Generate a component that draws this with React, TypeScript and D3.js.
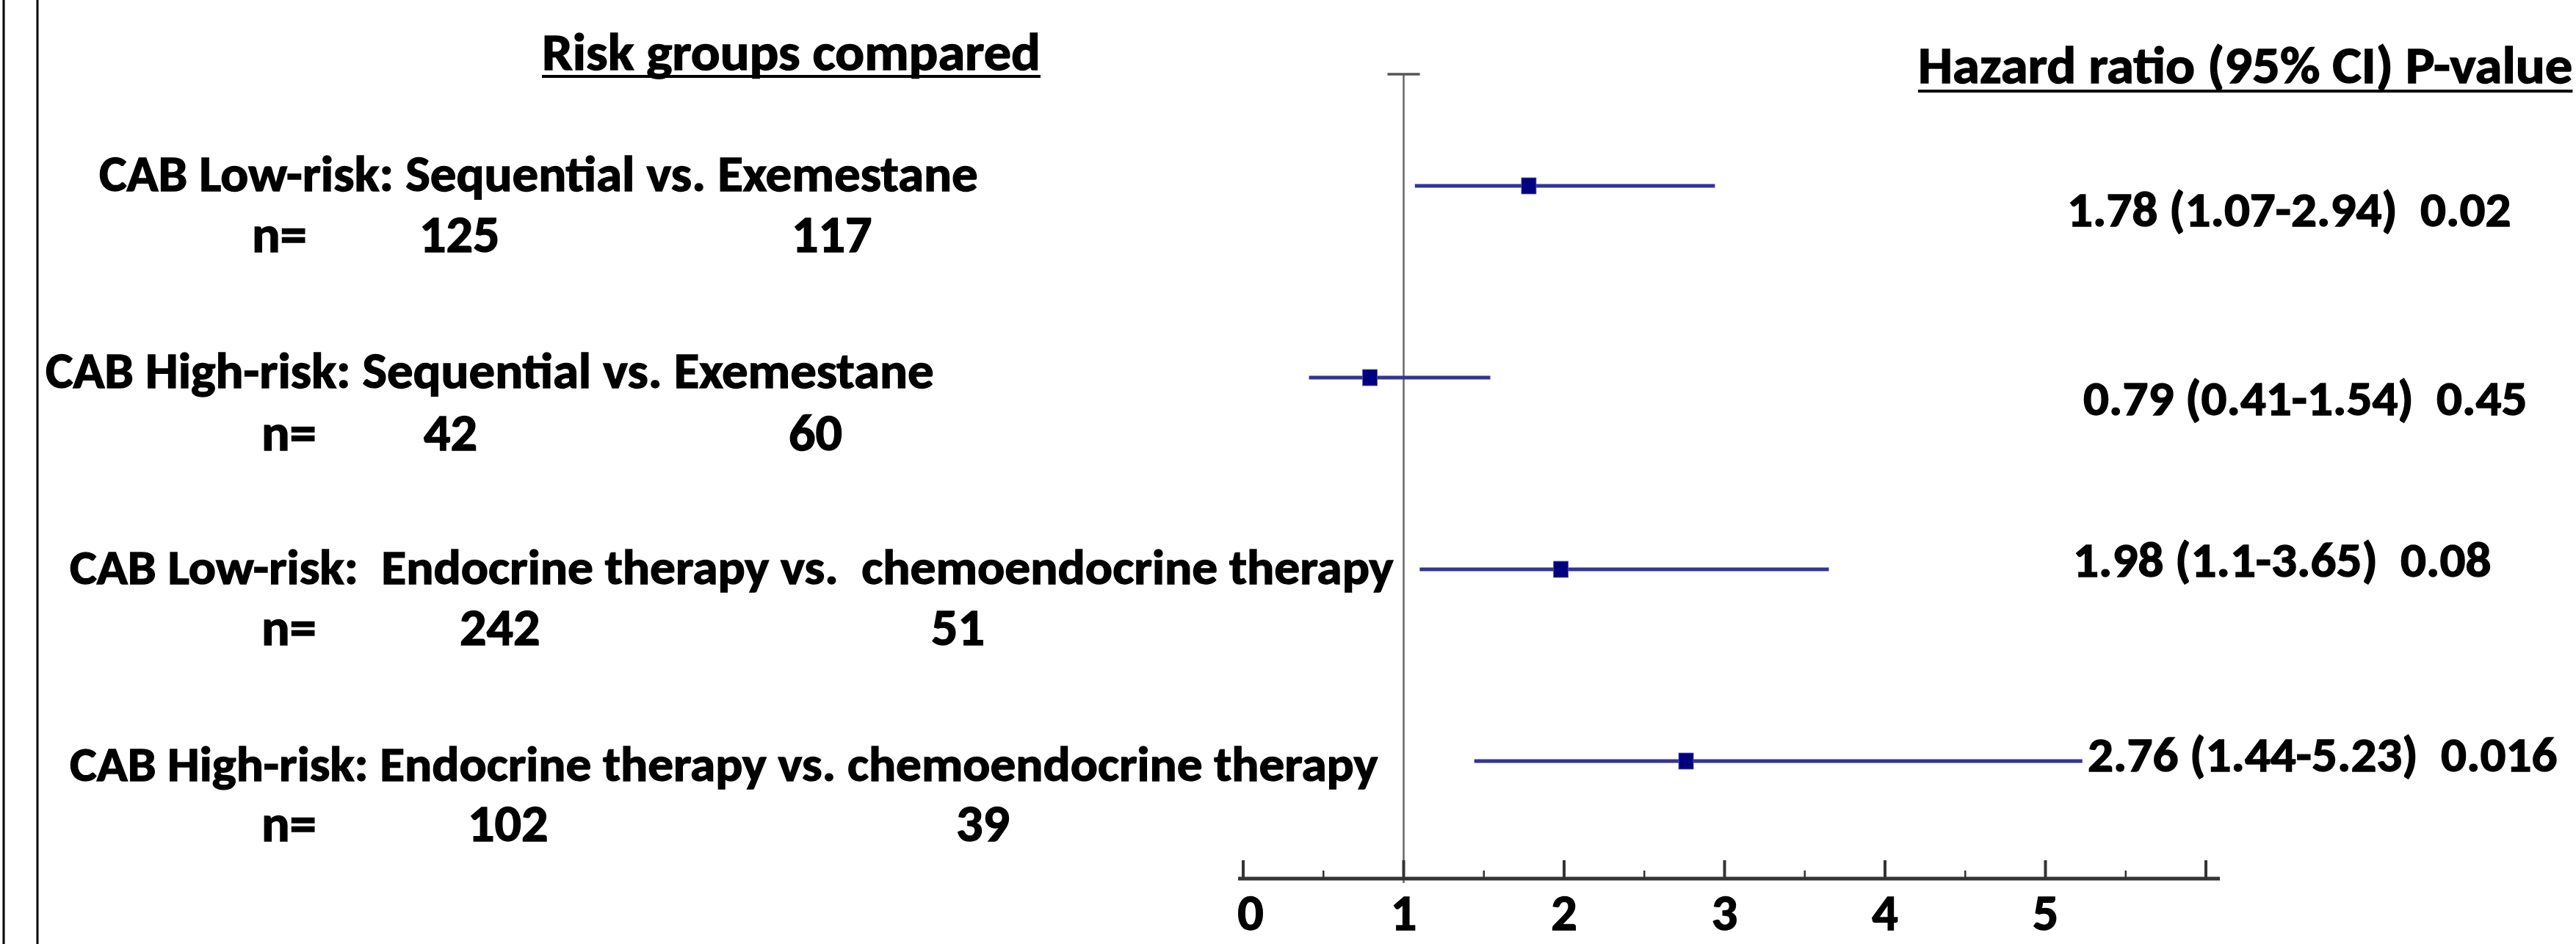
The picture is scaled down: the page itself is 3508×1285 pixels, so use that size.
import React from "react";
import * as d3 from "d3";

// ---------- data ----------
const groupLabels = [
  "CAB Low-risk: Sequential vs. Exemestane",
  "CAB High-risk: Sequential vs. Exemestane",
  "CAB Low-risk:  Endocrine therapy vs.  chemoendocrine therapy",
  "CAB High-risk: Endocrine therapy vs. chemoendocrine therapy",
];
const nFirst = [125, 42, 242, 102];
const nSecond = [117, 60, 51, 39];
const hazardRatios = [1.78, 0.79, 1.98, 2.76];
const ciLower = [1.07, 0.41, 1.1, 1.44];
const ciUpper = [2.94, 1.54, 3.65, 5.23];
const pValues = ["0.02", "0.45", "0.08", "0.016"];
const majorTicks = [0, 1, 2, 3, 4, 5, 6];
const minorTicks = [0.5, 1.5, 2.5, 3.5, 4.5, 5.5];
const tickLabels = ["0", "1", "2", "3", "4", "5"];

// ---------- layout ----------
const W = 3508;
const H = 1285;
const FONT = "Carlito, Calibri, Lato, 'Open Sans', sans-serif";
const GLYPH_SCALE = 0.97; // fallback font has slightly taller caps than Calibri

// Calibri Bold advance widths (per 1000 em) used to size text like the original
const CW: Record<string, number> = {
  " ": 226, a: 494, b: 537, c: 418, d: 537, e: 503, f: 316, g: 474, h: 537, i: 246,
  k: 480, l: 246, m: 813, n: 537, o: 538, p: 537, q: 537, r: 355, s: 399, t: 347,
  u: 537, v: 473, w: 745, x: 459, y: 474, z: 397, A: 606, B: 561, C: 529, E: 488,
  H: 631, I: 267, L: 423, P: 532, R: 563, S: 473, "(": 312, ")": 312, "-": 306,
  ".": 267, ":": 276, "%": 729, "=": 498,
};
const textWidth = (s: string, size: number) =>
  (s.split("").reduce((acc, ch) => acc + (/[0-9]/.test(ch) ? 507 : CW[ch] ?? 500), 0) * size) / 1000;

const labelX = [135, 62, 95, 95];
const labelSize = [70.5, 70.5, 69.2, 69.1];
const labelBase = [260, 528, 795, 1063];
const nBase = [343, 613, 878, 1145];
const nEqX = [343, 356, 356, 356];
const nFirstX = [571, 577, 626, 637];
const nSecondX = [1078, 1074, 1268, 1302];
const statX = [2815, 2837, 2823, 2843];
const statBase = [308, 565, 785, 1050];
const statSize = 69;

function T({ x, y, size, children }: any) {
  const s = String(children);
  return (
    <text
      x={x}
      y={y}
      fontSize={size * GLYPH_SCALE}
      fontWeight="bold"
      fontFamily={FONT}
      textLength={textWidth(s, size)}
      lengthAdjust="spacingAndGlyphs"
      style={{ whiteSpace: "pre" }}
      fill="#000"
      stroke="#000"
      strokeWidth={1.4}
    >
      {s}
    </text>
  );
}

export default function App() {
  const x = d3.scaleLinear().domain([0, 6]).range([1693, 3004]);
  const y = d3.scaleLinear().domain([0, 3]).range([253, 1036]);
  const axisY = 1196;
  const rows = d3.range(groupLabels.length);
  const title1 = "Risk groups compared";
  const title2 = "Hazard ratio (95% CI) P-value";
  const t1w = textWidth(title1, 74);
  const t2w = textWidth(title2, 74);

  return (
    <svg
      width={W}
      height={H}
      viewBox={`0 0 ${W} ${H}`}
      style={{ position: "absolute", left: 0, top: 0, background: "#fff" }}
    >
      <rect x={0} y={0} width={W} height={H} fill="#fff" />
      {/* left border lines */}
      <line x1={5} x2={5} y1={0} y2={H} stroke="#000" strokeWidth={3} />
      <line x1={51} x2={51} y1={0} y2={H} stroke="#000" strokeWidth={3} />

      {/* column titles */}
      <T x={738} y={95} size={74}>{title1}</T>
      <rect x={738} y={102} width={t1w} height={4} fill="#000" />
      <T x={2612} y={113} size={74}>{title2}</T>
      <rect x={2612} y={122} width={t2w} height={4} fill="#000" />

      {/* reference line at HR = 1 */}
      <line x1={x(1)} x2={x(1)} y1={101} y2={axisY + 6} stroke="#666" strokeWidth={2.5} />
      <line x1={x(1) - 22} x2={x(1) + 22} y1={101} y2={101} stroke="#555" strokeWidth={3.5} />

      {/* row labels */}
      {rows.map((i) => (
        <g key={"lab" + i}>
          <T x={labelX[i]} y={labelBase[i]} size={labelSize[i]}>{groupLabels[i]}</T>
          <T x={nEqX[i]} y={nBase[i]} size={72}>n=</T>
          <T x={nFirstX[i]} y={nBase[i]} size={72}>{nFirst[i]}</T>
          <T x={nSecondX[i]} y={nBase[i]} size={72}>{nSecond[i]}</T>
        </g>
      ))}

      {/* confidence intervals and point estimates */}
      {rows.map((i) => (
        <g key={"ci" + i}>
          <line
            x1={x(ciLower[i])}
            x2={x(ciUpper[i])}
            y1={y(i)}
            y2={y(i)}
            stroke="#333399"
            strokeWidth={5}
          />
          <rect
            x={x(hazardRatios[i]) - 10}
            y={y(i) - 11}
            width={20}
            height={22}
            fill="#000080"
            stroke="#5a5ab0"
            strokeWidth={0.8}
          />
        </g>
      ))}

      {/* statistics */}
      {rows.map((i) => (
        <T key={"st" + i} x={statX[i]} y={statBase[i]} size={statSize}>
          {`${hazardRatios[i]} (${ciLower[i]}-${ciUpper[i]})  ${pValues[i]}`}
        </T>
      ))}

      {/* x axis */}
      <line x1={x(0) - 7} x2={x(6) + 19} y1={axisY} y2={axisY} stroke="#333" strokeWidth={5} />
      {majorTicks.map((t) => (
        <line key={"M" + t} x1={x(t)} x2={x(t)} y1={axisY - 25} y2={axisY} stroke="#333" strokeWidth={4} />
      ))}
      {minorTicks.map((t) => (
        <line key={"m" + t} x1={x(t)} x2={x(t)} y1={axisY - 11} y2={axisY} stroke="#333" strokeWidth={2.5} />
      ))}
      {tickLabels.map((lab, i) => (
        <T key={"tl" + i} x={x(majorTicks[i]) - textWidth(lab, 70) / 2 + (i === 0 ? 10 : 0)} y={1266} size={70}>
          {lab}
        </T>
      ))}
    </svg>
  );
}
